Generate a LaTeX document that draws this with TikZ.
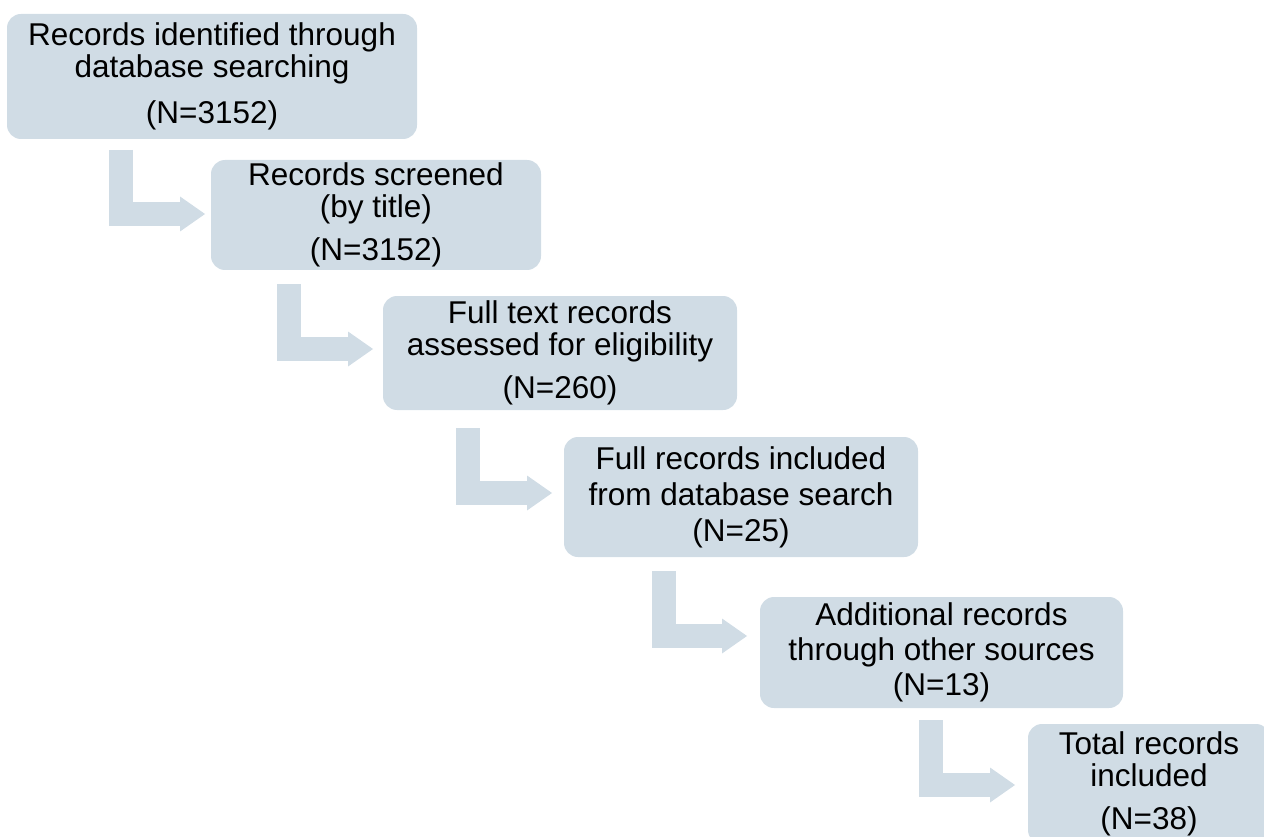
\documentclass[tikz,border=0pt]{standalone}
\usepackage{fontspec}
\setmainfont{Liberation Sans}
\usetikzlibrary{arrows.meta}
\definecolor{boxfill}{RGB}{208,220,229}
\tikzset{
    recbox/.style={rectangle, rounded corners=14pt, fill=boxfill, align=center,
        inner sep=0pt, font=\fontsize{31.5}{32}\selectfont},
    bentarrow/.style={draw=boxfill, line width=24pt,
        -{Triangle[width=35pt,length=25pt,line width=0pt]}}
}

\begin{document}
\begin{tikzpicture}[x=1pt,y=-1pt]
    \useasboundingbox (0,0) rectangle (1264,837);

    % boxes
    \node[recbox, minimum width=410pt, minimum height=125pt] (recA) at (212,76.5)
        {Records identified through\\database searching\\[14pt](N=3152)};
    \node[recbox, minimum width=330pt, minimum height=110pt] (recB) at (376,215)
        {Records screened\\(by title)\\[11pt](N=3152)};
    \node[recbox, minimum width=354pt, minimum height=114pt] (recC) at (560,353)
        {Full text records\\assessed for eligibility\\[11pt](N=260)};
    \node[recbox, minimum width=354pt, minimum height=120pt] (recD) at (741,497)
        {Full records included\\[4pt]from database search\\[4pt](N=25)};
    \node[recbox, minimum width=363pt, minimum height=111pt] (recE) at (941.5,652.5)
        {Additional records\\[3pt]through other sources\\[3pt](N=13)};
    \node[recbox, minimum width=242pt, minimum height=120pt] (recF) at (1149,784)
        {Total records\\included\\[11pt](N=38)};

    % bent arrows
    \coordinate (a1) at (121,150);  \coordinate (t1) at (205,214);
    \coordinate (a2) at (289,284);  \coordinate (t2) at (373,349);
    \coordinate (a3) at (468,428);  \coordinate (t3) at (552,493);
    \coordinate (a4) at (664,571);  \coordinate (t4) at (747,636);
    \coordinate (a5) at (931,720);  \coordinate (t5) at (1015,785);

    \draw[bentarrow] (a1) |- (t1);
    \draw[bentarrow] (a2) |- (t2);
    \draw[bentarrow] (a3) |- (t3);
    \draw[bentarrow] (a4) |- (t4);
    \draw[bentarrow] (a5) |- (t5);
\end{tikzpicture}
\end{document}
